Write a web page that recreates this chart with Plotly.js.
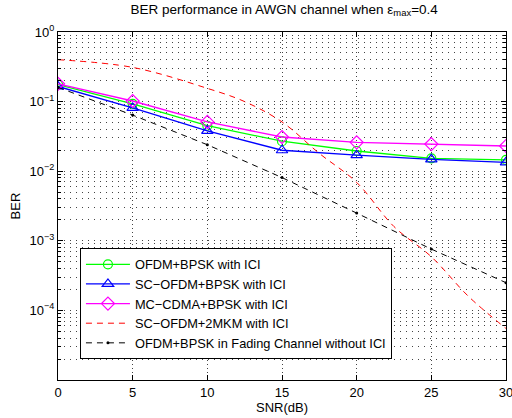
<!DOCTYPE html>
<html>
<head>
<meta charset="utf-8">
<script src="https://cdn.plot.ly/plotly-3.0.1.min.js"></script>
<style>html,body{margin:0;padding:0;background:#fff;}#chart{width:512px;height:418px;}</style>
</head>
<body>
<div id="chart"></div>
<script>
// SNR values (dB)
const snr = [0, 5, 10, 15, 20, 25, 30];
const berOfdm = [0.175, 0.093, 0.045, 0.027, 0.0195, 0.0153, 0.0145];
const berScOfdm = [0.165, 0.081, 0.038, 0.020, 0.017, 0.0148, 0.0134];
const berMcCdma = [0.18, 0.102, 0.051, 0.031, 0.026, 0.0245, 0.023];
const snrMkm = [0, 5, 10, 12.5, 15, 17.5, 20, 22.5, 25, 27.5, 30];
const berMkm = [0.40, 0.31, 0.155, 0.10, 0.051, 0.018, 0.0069, 0.0016, 0.00059, 0.000158, 0.000055];
const berFading = [0.16, 0.064, 0.024, 0.0081, 0.0025, 0.00076, 0.00025];
const seriesNames = ['OFDM+BPSK with ICI', 'SC\u2212OFDM+BPSK with ICI', 'MC\u2212CDMA+BPSK with ICI', 'SC\u2212OFDM+2MKM with ICI', 'OFDM+BPSK in Fading Channel without ICI'];
const yTickVals = [1, 0.1, 0.01, 0.001, 0.0001];
const yTickText = ['10<sup>0</sup>', '10<sup>\u22121</sup>', '10<sup>\u22122</sup>', '10<sup>\u22123</sup>', '10<sup>\u22124</sup>'];
const xTickVals = [0, 5, 10, 15, 20, 25, 30];

const minorY = [];
for (let e = -5; e < 0; e++) for (let m = 2; m <= 9; m++) minorY.push(m * Math.pow(10, e));

const traces = [
  {x: snr, y: berOfdm, name: seriesNames[0], mode: 'lines+markers',
   line: {color: '#00ff00', width: 1.3}, marker: {symbol: 'circle-open', size: 9, color: '#00ff00', line: {width: 1.2}}},
  {x: snr, y: berScOfdm, name: seriesNames[1], mode: 'lines+markers',
   line: {color: '#0000ff', width: 1.3}, marker: {symbol: 'triangle-up-open', size: 10, color: '#0000ff', line: {width: 1.2}}},
  {x: snr, y: berMcCdma, name: seriesNames[2], mode: 'lines+markers',
   line: {color: '#ff00ff', width: 1.3}, marker: {symbol: 'diamond-open', size: 10, color: '#ff00ff', line: {width: 1.2}}},
  {x: snrMkm, y: berMkm, name: seriesNames[3], mode: 'lines',
   line: {color: '#ff0000', width: 1, dash: '6px,5px', shape: 'spline'}},
  {x: snr, y: berFading, name: seriesNames[4], mode: 'lines+markers',
   line: {color: '#000000', width: 1, dash: '6px,5px'}, marker: {symbol: 'circle', size: 3, color: '#000000'}}
];

const font = {family: 'Liberation Sans, Arial, Helvetica, sans-serif', color: '#000'};

const layout = {
  width: 512, height: 418,
  margin: {l: 58, r: 6, t: 32, b: 38},
  paper_bgcolor: '#fff', plot_bgcolor: '#fff',
  font: Object.assign({size: 13}, font),
  title: {text: 'BER performance in AWGN channel when \u03b5<sub>max</sub>=0.4', font: Object.assign({size: 13.5}, font),
          x: 0.555, xanchor: 'center', y: 0.99, yanchor: 'top'},
  showlegend: true,
  legend: {x: 0.049, y: 0.378, xanchor: 'left', yanchor: 'top', bgcolor: '#fff', bordercolor: '#000', borderwidth: 1,
           font: Object.assign({size: 12.8}, font), itemwidth: 44, tracegroupgap: 0},
  xaxis: {
    range: [0, 30], tickvals: xTickVals, ticktext: xTickVals.map(String), ticklabeloverflow: 'allow',
    showline: true, linecolor: '#000', linewidth: 1, mirror: 'allticks', ticks: 'inside', ticklen: 5, tickcolor: '#000',
    showgrid: true, gridcolor: '#444', griddash: '1px,3px', gridwidth: 1, zeroline: false,
    tickfont: Object.assign({size: 13}, font),
    title: {text: 'SNR(dB)', font: Object.assign({size: 13}, font), standoff: 4}
  },
  yaxis: {
    type: 'log', range: [-5, 0], tickvals: yTickVals, ticktext: yTickText,
    showline: true, linecolor: '#000', linewidth: 1, mirror: 'allticks', ticks: 'inside', ticklen: 5, tickcolor: '#000',
    showgrid: true, gridcolor: '#444', griddash: '1px,5px', gridwidth: 1, zeroline: false,
    tickfont: Object.assign({size: 13}, font),
    minor: {tickvals: minorY, ticks: 'inside', ticklen: 3, tickcolor: '#000', showgrid: true, gridcolor: '#444', griddash: '1px,5px', gridwidth: 1},
    title: {text: 'BER', font: Object.assign({size: 13}, font), standoff: 6}
  }
};

Plotly.newPlot('chart', traces, layout, {displayModeBar: false, staticPlot: true});
</script>
</body>
</html>
